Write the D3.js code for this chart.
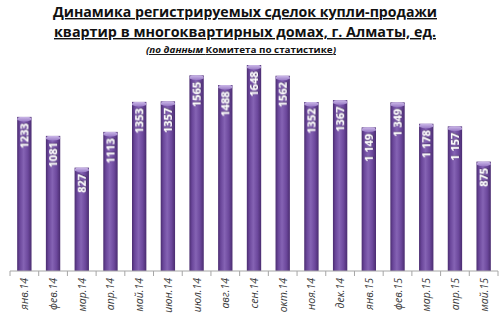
<!DOCTYPE html>
<html>
<head>
<meta charset="utf-8">
<script src="https://cdn.jsdelivr.net/npm/d3@7/dist/d3.min.js"></script>
<style>
  html, body { margin: 0; padding: 0; background: #fff; }
  svg { display: block; }
</style>
</head>
<body>
<svg id="chart" width="500" height="322"></svg>
<script>
// Monthly registered apartment sale deals, Almaty
const months = ["янв.14","фев.14","мар.14","апр.14","май.14","июн.14","июл.14","авг.14",
                "сен.14","окт.14","ноя.14","дек.14","янв.15","фев.15","мар.15","апр.15","май.15"];
const deals = [1233,1081,827,1113,1353,1357,1565,1488,1648,1562,1352,1367,1149,1349,1178,1157,875];
const dealLabels = ["1233","1081","827","1113","1353","1357","1565","1488","1648","1562",
                    "1352","1367","1 149","1 349","1 178","1 157","875"];
const titleLines = ["Динамика регистрируемых сделок купли-продажи",
                    "квартир в многоквартирных домах, г. Алматы, ед."];

const svg = d3.select("#chart");
const plotLeft = 10, plotRight = 498, plotBase = 271, plotTop = 46;

const x = d3.scaleBand().domain(months).range([plotLeft, plotRight]).paddingInner(0.5).paddingOuter(0.25);
const y = d3.scaleLinear().domain([0, 1800]).range([plotBase, plotTop]);

const defs = svg.append("defs");
const g = defs.append("linearGradient").attr("id", "barGrad").attr("x1", 0).attr("x2", 1).attr("y1", 0).attr("y2", 0);
g.append("stop").attr("offset", "0%").attr("stop-color", "#4a2c70");
g.append("stop").attr("offset", "18%").attr("stop-color", "#6a469a");
g.append("stop").attr("offset", "45%").attr("stop-color", "#8563b4");
g.append("stop").attr("offset", "75%").attr("stop-color", "#6c489c");
g.append("stop").attr("offset", "100%").attr("stop-color", "#4a2c70");
const capG = defs.append("linearGradient").attr("id", "capGrad").attr("x1", 0).attr("x2", 0).attr("y1", 0).attr("y2", 1);
capG.append("stop").attr("offset", "0%").attr("stop-color", "#cbb8e8");
capG.append("stop").attr("offset", "100%").attr("stop-color", "#9a7cc6");
const shadow = defs.append("filter").attr("id", "txtShadow").attr("x", "-20%").attr("y", "-20%").attr("width", "140%").attr("height", "140%");
shadow.append("feDropShadow").attr("dx", 0.6).attr("dy", 0.6).attr("stdDeviation", 0.4).attr("flood-color", "#2a1640").attr("flood-opacity", 0.8);

// Title
const title = svg.append("g").attr("font-family", "'Open Sans', 'DejaVu Sans', sans-serif")
  .attr("font-weight", "bold").attr("fill", "#111").attr("text-anchor", "middle");
title.selectAll("text.t").data(titleLines).join("text")
  .attr("class", "t")
  .attr("x", 245)
  .attr("y", (d, i) => 17 + i * 20)
  .attr("font-size", 14)
  .attr("textLength", (d, i) => i === 0 ? 384 : 382)
  .attr("lengthAdjust", "spacingAndGlyphs")
  .attr("text-decoration", "underline")
  .text(d => d);

const sub = svg.append("text")
  .attr("x", 241).attr("y", 53)
  .attr("text-anchor", "middle")
  .attr("font-family", "'Open Sans', 'DejaVu Sans', sans-serif")
  .attr("font-size", 9.5).attr("font-weight", "bold").attr("fill", "#111")
  .attr("text-decoration", "underline")
  .attr("textLength", 190).attr("lengthAdjust", "spacingAndGlyphs");
sub.append("tspan").attr("font-style", "italic").text("(по данным ");
sub.append("tspan").text("Комитета по статистике");
sub.append("tspan").attr("font-style", "italic").text(")");

// Bars
const bars = svg.append("g").selectAll("g.bar").data(months.map((m, i) => ({ m, v: deals[i], l: dealLabels[i] })))
  .join("g").attr("class", "bar");

bars.append("rect")
  .attr("x", d => x(d.m))
  .attr("y", d => y(d.v))
  .attr("width", x.bandwidth())
  .attr("height", d => plotBase - y(d.v))
  .attr("fill", "url(#barGrad)");

bars.append("path")
  .attr("d", d => {
    const x0 = x(d.m), w = x.bandwidth(), t = y(d.v);
    return `M${x0},${t + 3} Q${x0},${t} ${x0 + 3},${t} L${x0 + w - 3},${t} Q${x0 + w},${t} ${x0 + w},${t + 3}
            Q${x0 + w / 2},${t + 6} ${x0},${t + 3}Z`;
  })
  .attr("fill", "url(#capGrad)");

bars.append("text")
  .attr("transform", d => `translate(${x(d.m) + x.bandwidth() / 2 + 4},${y(d.v) + 6.5}) rotate(-90)`)
  .attr("text-anchor", "end")
  .attr("font-family", "'Open Sans', 'DejaVu Sans', sans-serif")
  .attr("font-weight", "bold")
  .attr("font-size", 11)
  .attr("fill", "#fff")
  .attr("filter", "url(#txtShadow)")
  .text(d => d.l);

// Axis
const axis = d3.axisBottom(x).tickSize(0).tickFormat("");
const ax = svg.append("g").attr("transform", `translate(0,${plotBase})`).call(axis);
ax.select(".domain").attr("stroke", "#a6a6a6").attr("d", `M${plotLeft},0H${plotRight}`);
const boundaries = d3.range(months.length + 1).map(i => plotLeft + i * (plotRight - plotLeft) / months.length);
ax.selectAll("line.sep").data(boundaries).join("line").attr("class", "sep")
  .attr("x1", d => d).attr("x2", d => d).attr("y1", 0).attr("y2", 5)
  .attr("stroke", "#a6a6a6");

ax.selectAll("text.lbl").data(months).join("text").attr("class", "lbl")
  .attr("transform", d => `translate(${x(d) + x.bandwidth() / 2 + 4},${7}) rotate(-90)`)
  .attr("text-anchor", "end")
  .attr("font-family", "'Open Sans', 'DejaVu Sans', sans-serif")
  .attr("font-style", "italic")
  .attr("font-size", 10.5)
  .attr("fill", "#3a3a3a")
  .text(d => d);
</script>
</body>
</html>
